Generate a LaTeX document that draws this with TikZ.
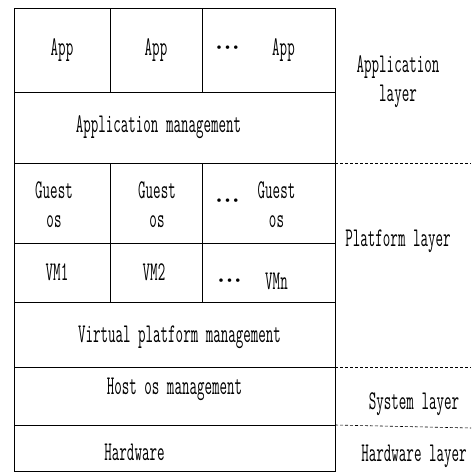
\documentclass[tikz,border=0pt]{standalone}
\usepackage{fontspec}
\setmonofont{Latin Modern Mono}[FakeStretch=0.54]
\usetikzlibrary{positioning}

\newcommand{\tdots}{\textbullet\kern-2.2pt\textbullet\kern-2.2pt\textbullet}

\begin{document}
\begin{tikzpicture}[x=1pt, y=-1pt, font=\ttfamily\fontsize{27}{29}\selectfont]
  \tikzstyle{cell} = [rectangle, draw, line width=0.6pt, inner sep=0pt,
    outer sep=0pt, anchor=north west]
  \tikzstyle{txt} = [inner sep=0pt, align=center]
  \tikzstyle{dots} = [inner sep=0pt, font=\rmfamily\bfseries\fontsize{12}{12}\selectfont]
  \tikzstyle{layerline} = [draw, line width=0.6pt, dash pattern=on 3pt off 2pt]

  \useasboundingbox (0,0) rectangle (471,476);

  % Place cells
  \node [cell, minimum width=96pt, minimum height=84pt] (app1) at (14,8) {};
  \node [cell, minimum width=92pt, minimum height=84pt, right=0pt of app1] (app2) {};
  \node [cell, minimum width=133pt, minimum height=84pt, right=0pt of app2] (app3) {};
  \node [cell, minimum width=321pt, minimum height=71pt,
    below=0pt of app1.south west, anchor=north west] (appmgmt) {};

  \node [cell, minimum width=96pt, minimum height=80pt,
    below=0pt of appmgmt.south west, anchor=north west] (guest1) {};
  \node [cell, minimum width=92pt, minimum height=80pt, right=0pt of guest1] (guest2) {};
  \node [cell, minimum width=133pt, minimum height=80pt, right=0pt of guest2] (guest3) {};

  \node [cell, minimum width=96pt, minimum height=59pt,
    below=0pt of guest1.south west, anchor=north west] (vm1) {};
  \node [cell, minimum width=92pt, minimum height=59pt, right=0pt of vm1] (vm2) {};
  \node [cell, minimum width=133pt, minimum height=59pt, right=0pt of vm2] (vm3) {};

  \node [cell, minimum width=321pt, minimum height=65pt,
    below=0pt of vm1.south west, anchor=north west] (virtmgmt) {};
  \node [cell, minimum width=321pt, minimum height=58pt,
    below=0pt of virtmgmt.south west, anchor=north west] (hostmgmt) {};
  \node [cell, minimum width=321pt, minimum height=46pt,
    below=0pt of hostmgmt.south west, anchor=north west] (hardware) {};

  % Cell texts
  \node [txt] (t-app1) at (app1.center) {App};
  \node [txt] (t-app2) at (app2.center) {App};
  \node [dots] (d-app) at ([xshift=-41pt, yshift=2pt]app3.center) {\tdots};
  \node [txt] (t-app3) at ([xshift=15pt]app3.center) {App};
  \node [txt] (t-appmgmt) at ([xshift=-16pt]appmgmt.center) {Application management};

  \node [txt] (t-guest1) at ([xshift=-8pt, yshift=-2pt]guest1.center) {Guest\\os};
  \node [txt] (t-guest2) at ([xshift=1pt, yshift=-2pt]guest2.center) {Guest\\os};
  \node [dots] (d-guest) at ([xshift=-41pt, yshift=2pt]guest3.center) {\tdots};
  \node [txt] (t-guest3) at ([xshift=8pt, yshift=-2pt]guest3.center) {Guest\\os};

  \node [txt] (t-vm1) at ([xshift=-5pt]vm1.center) {VM1};
  \node [txt] (t-vm2) at ([xshift=-2pt]vm2.center) {VM2};
  \node [dots] (d-vm) at ([xshift=-39pt, yshift=-9pt]vm3.center) {\tdots};
  \node [txt] (t-vm3) at ([xshift=8pt, yshift=-9pt]vm3.center) {VMn};

  \node [txt] (t-virtmgmt) at ([xshift=5pt, yshift=-3pt]virtmgmt.center) {Virtual platform management};
  \node [txt] (t-hostmgmt) at ([yshift=7pt]hostmgmt.center) {Host os management};
  \node [txt] (t-hardware) at ([xshift=-40pt, yshift=-4pt]hardware.center) {Hardware};

  % Layer names
  \node [txt] (applayer) at (398,82) {Application\\layer};
  \node [txt] (platlayer) at (398,241) {Platform layer};
  \node [txt] (syslayer) at (414,404) {System layer};
  \node [txt] (hwlayer) at (414,456) {Hardware layer};

  % Layer borders
  \coordinate (b1) at (471,163);
  \coordinate (b2) at (471,367);
  \coordinate (b3) at (471,428);
  \path [layerline] (appmgmt.south east) -- (b1);
  \path [layerline] (virtmgmt.south east) -- (b2);
  \path [layerline] (hostmgmt.south east) -- (b3);
\end{tikzpicture}
\end{document}
